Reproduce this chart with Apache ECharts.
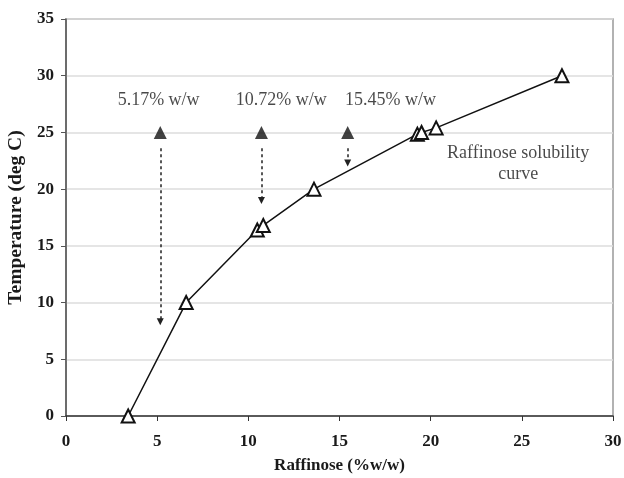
<!DOCTYPE html>
<html>
<head>
<meta charset="utf-8">
<script src="https://cdn.jsdelivr.net/npm/echarts@6/dist/echarts.min.js"></script>
<style>html,body{margin:0;padding:0;background:#fff}#c{width:624px;height:478px}</style>
</head>
<body>
<div id="c"></div>
<script>
// Solubility curve
const curveX = [3.41, 6.59, 10.49, 10.82, 13.6, 19.27, 19.5, 20.3, 27.2];
const curveY = [0, 10, 16.4, 16.8, 20.0, 24.85, 25.0, 25.4, 30.0];
// Sample concentrations (filled triangles) and arrow ends
const sampleX = [5.17, 10.72, 15.45];
const sampleY = [25, 25, 25];
const arrowStartY = [23.6, 23.6, 23.6];
const arrowEndY = [8.3, 19.0, 22.3];
const sampleLabels = ['5.17% w/w', '10.72% w/w', '15.45% w/w'];
const sampleLabelX = [5.08, 11.8, 17.8];
const sampleLabelY = [27.85, 27.85, 27.85];
const curveLabel = 'Raffinose solubility\ncurve';
const curveLabelPos = [24.8, 22.2];
const xTicks = [0, 5, 10, 15, 20, 25, 30];
const yTicks = [0, 5, 10, 15, 20, 25, 30, 35];

const font = '"Liberation Serif", "Times New Roman", serif';
const chart = echarts.init(document.getElementById('c'), null, {renderer: 'canvas'});

const arrowData = sampleX.map((x, i) => [
  {coord: [x, arrowStartY[i]]},
  {coord: [x, arrowEndY[i]]}
]);

chart.setOption({
  animation: false,
  backgroundColor: '#fff',
  grid: {left: 66, right: 11, top: 19, bottom: 62, show: true, borderColor: '#999', borderWidth: 1.5,
         containLabel: false, outerBoundsMode: 'none'},
  xAxis: {
    type: 'value', min: xTicks[0], max: xTicks[xTicks.length - 1], interval: 5,
    name: 'Raffinose (%w/w)', nameLocation: 'middle', nameGap: 41,
    nameTextStyle: {fontFamily: font, fontWeight: 'bold', fontSize: 17, color: '#1a1a1a'},
    axisLine: {show: true, onZero: false, lineStyle: {color: '#333', width: 1.5}},
    axisTick: {show: true, length: 5, lineStyle: {color: '#333'}},
    axisLabel: {fontFamily: font, fontWeight: 'bold', fontSize: 17, color: '#1a1a1a', margin: 17},
    splitLine: {show: false}
  },
  yAxis: {
    type: 'value', min: yTicks[0], max: yTicks[yTicks.length - 1], interval: 5,
    name: 'Temperature (deg C)', nameLocation: 'middle', nameGap: 33,
    nameTextStyle: {fontFamily: font, fontWeight: 'bold', fontSize: 19.5, color: '#1a1a1a'},
    axisLine: {show: true, onZero: false, lineStyle: {color: '#555', width: 1.5}},
    axisTick: {show: true, length: 5, lineStyle: {color: '#555'}},
    axisLabel: {fontFamily: font, fontWeight: 'bold', fontSize: 17, color: '#1a1a1a', margin: 12},
    splitLine: {show: true, lineStyle: {color: '#ddd', width: 1.5}}
  },
  series: [
    {
      type: 'line',
      data: curveX.map((x, i) => [x, curveY[i]]),
      symbol: 'emptyTriangle', symbolSize: 13,
      clip: false,
      lineStyle: {color: '#111', width: 1.5},
      itemStyle: {color: '#111', borderWidth: 1.3},
      z: 3
    },
    {
      type: 'scatter',
      data: sampleX.map((x, i) => [x, sampleY[i]]),
      symbol: 'triangle', symbolSize: 13,
      itemStyle: {color: '#111'},
      markLine: {
        silent: true,
        symbol: ['none', 'triangle'], symbolSize: [7, 7],
        label: {show: false},
        lineStyle: {type: [3, 3], color: '#222', width: 1.5},
        data: arrowData
      }
    },
    {
      type: 'scatter',
      data: sampleLabelX.map((x, i) => ({value: [x, sampleLabelY[i]], label: {formatter: sampleLabels[i]}})),
      symbolSize: 0,
      label: {show: true, position: 'inside', fontFamily: font, fontSize: 18, color: '#1a1a1a'},
      silent: true
    },
    {
      type: 'scatter',
      data: [{value: curveLabelPos, label: {formatter: curveLabel}}],
      symbolSize: 0,
      label: {show: true, position: 'inside', fontFamily: font, fontSize: 18, color: '#1a1a1a', lineHeight: 21, align: 'center'},
      silent: true
    }
  ]
});
</script>
</body>
</html>
